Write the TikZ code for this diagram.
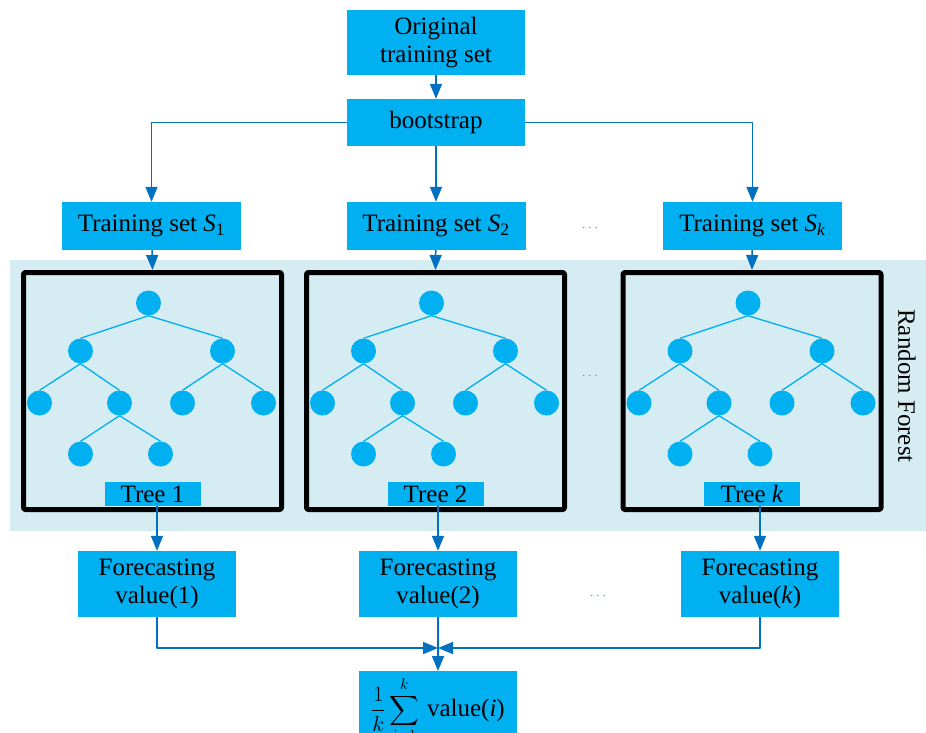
\documentclass[tikz,border=0pt]{standalone}
\usepackage{fix-cm}
\usepackage{exscale}
\usepackage{fontspec}
\setmainfont{Liberation Serif}
\usetikzlibrary{arrows.meta}
\definecolor{boxblue}{HTML}{00B0F0}
\definecolor{linkblue}{HTML}{0070C0}
\definecolor{forestbg}{HTML}{D4ECF2}
\tikzset{
	box/.style={fill=boxblue, inner sep=0pt, align=center, font=\fontsize{25}{28}\selectfont},
	conn/.style={draw=linkblue, line width=1.6pt, -{Triangle[length=15pt,width=12pt]}},
	leaf/.style={circle, fill=boxblue, minimum size=25pt, inner sep=0pt},
	branch/.style={draw=boxblue, line width=1.3pt},
	treebox/.style={draw=black, line width=5pt, rounded corners=2pt, minimum width=258pt, minimum height=237pt, inner sep=0pt},
	gap/.style={text=boxblue, inner sep=0pt, font=\fontsize{14}{14}\selectfont}
}
\begin{document}
\begin{tikzpicture}[x=1pt, y=-1pt, line join=round]
	\useasboundingbox (0,0) rectangle (926,733);
	\fill[forestbg] (10,260) rectangle (926,531);
	% top of the chart
	\node[box, minimum width=178, minimum height=65] (orig) at (436,42.5) {Original\\training set};
	\node[box, minimum width=178, minimum height=47] (boot) at (436,122.5) {bootstrap};
	\node[box, minimum width=179, minimum height=48] (ts1) at (151.5,226) {Training set \textit{S}\textsubscript{1}};
	\node[box, minimum width=179, minimum height=48] (ts2) at (436,226) {Training set \textit{S}\textsubscript{2}};
	\node[box, minimum width=179, minimum height=48] (tsk) at (752.5,226) {Training set \textit{S}\textsubscript{\textit{k}}};
	\node[gap] (dots1) at (590,228) {$\cdots$};
	\draw[conn] (orig) -- (boot);
	\draw[conn] (boot.west) -| (ts1.north);
	\draw[conn] (boot) -- (ts2);
	\draw[conn] (boot.east) -| (tsk.north);
	% the trees
	\foreach \n/\cx/\fx/\lab in {1/152.5/157/1, 2/435.5/438/2, k/752/760/\textit{k}}
	{\node[treebox] (tb\n) at (\cx,391) {};
		\foreach \i/\dx/\dy in {r/0/0, a/-68/48, b/74/48, c/-109/100, d/-29/100, e/34/100, f/115/100, g/-68/151, h/12/151}
		\node[leaf] (\n\i) at (\cx-4+\dx, 303+\dy) {};
		\foreach \p/\c in {r/a, r/b, a/c, a/d, b/e, b/f, d/g, d/h}
		\draw[branch] (\n\p.south) -- (\n\c.north);
		\node[box, minimum width=96, minimum height=24] (tl\n) at (\cx,494) {Tree \lab};
		\node[box, minimum width=158, minimum height=66] (fc\n) at (\fx,584) {Forecasting\\value(\lab)};
		\draw[conn] (fc\n.north |- tl\n.south) -- (fc\n.north);}
	\draw[conn] (ts1) -- (tb1.north);
	\draw[conn] (ts2) -- (tb2.north);
	\draw[conn] (tsk) -- (tbk.north);
	\node[gap] (dots2) at (590,376) {$\cdots$};
	\node[rotate=-90, font=\fontsize{25}{28}\selectfont] (rf) at (907,386) {Random Forest};
	% averaging
	\node[gap] (dots3) at (598,596) {$\cdots$};
	\node[box, minimum width=158, inner ysep=6pt, anchor=north, font=\fontsize{22}{24}\selectfont] (sum) at (438,671) {$\displaystyle\frac{1}{k}\sum_{i=1}^{k}\textrm{\fontsize{25}{25}\selectfont\,value(\textit{i})}$};
	\coordinate (merge) at (438,648);
	\draw[conn] (fc1.south) |- (merge);
	\draw[conn] (fck.south) |- (merge);
	\draw[conn] (fc2) -- (sum);
\end{tikzpicture}
\end{document}
